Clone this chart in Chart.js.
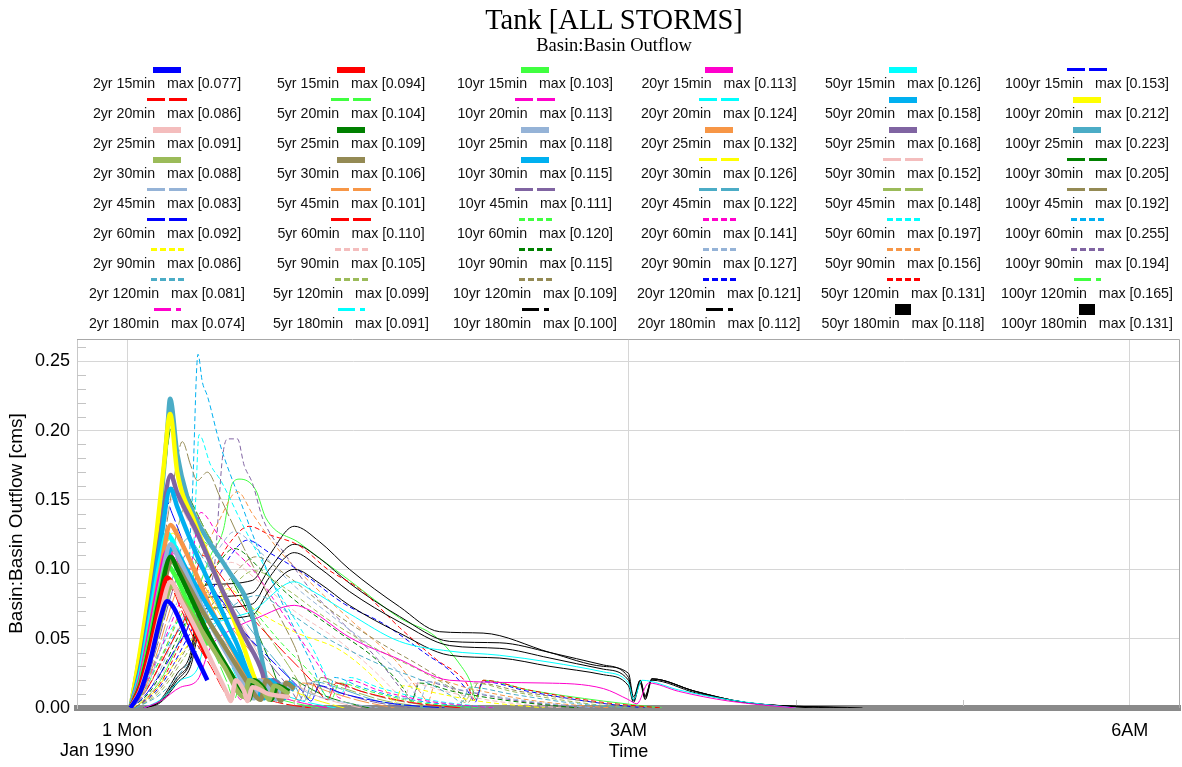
<!DOCTYPE html>
<html>
<head>
<meta charset="utf-8">
<script src="https://cdn.jsdelivr.net/npm/chart.js@4.4.0/dist/chart.umd.min.js"></script>
<style>
body{margin:0;background:#fff;width:1182px;height:767px;overflow:hidden;position:relative;font-family:"Liberation Sans",Arial,sans-serif;}
canvas{position:absolute;left:0;top:0;}
#title{position:absolute;left:0;top:4px;width:1228px;text-align:center;font-family:"Liberation Serif","Times New Roman",serif;font-size:28.5px;line-height:32px;color:#000;}
#subtitle{position:absolute;left:0;top:35px;width:1228px;text-align:center;font-family:"Liberation Serif","Times New Roman",serif;font-size:18.5px;line-height:20px;color:#000;}
.sw{position:absolute;width:184px;height:12px;display:flex;justify-content:center;align-items:center;}
.sw i{display:block;}
.lbl{position:absolute;width:184px;text-align:center;font-size:14.2px;line-height:16px;white-space:pre;color:#111;}
</style>
</head>
<body>
<canvas id="chart" width="1182" height="767"></canvas>
<div id="title">Tank [ALL STORMS]</div>
<div id="subtitle">Basin:Basin Outflow</div>
<div id="legend"></div>
<script>
// storms
const returnPeriods = ['2yr', '5yr', '10yr', '20yr', '50yr', '100yr'];
const durations = ['15min', '20min', '25min', '30min', '45min', '60min', '90min', '120min', '180min'];

// peak flows shown in the legend [cms]
const max2yr = [0.077, 0.086, 0.091, 0.088, 0.083, 0.092, 0.086, 0.081, 0.074];
const max5yr = [0.094, 0.104, 0.109, 0.106, 0.101, 0.110, 0.105, 0.099, 0.091];
const max10yr = [0.103, 0.113, 0.118, 0.115, 0.111, 0.120, 0.115, 0.109, 0.100];
const max20yr = [0.113, 0.124, 0.132, 0.126, 0.122, 0.141, 0.127, 0.121, 0.112];
const max50yr = [0.126, 0.158, 0.168, 0.152, 0.148, 0.197, 0.156, 0.131, 0.118];
const max100yr = [0.153, 0.212, 0.223, 0.205, 0.192, 0.255, 0.194, 0.165, 0.131];

// hydrographs, [hours after 1 Jan 1990 00:00, outflow cms], one list per duration
const q2yr = [
  [[0.02,0],[0.08,0.012],[0.14,0.035],[0.2,0.065],[0.24,0.077],[0.28,0.072],[0.36,0.05],[0.42,0.035],[0.48,0.02]],
  [[0.02,0],[0.08,0.012],[0.14,0.035],[0.2,0.065],[0.26,0.086],[0.32,0.072],[0.4,0.05],[0.5,0.03],[0.58,0.012],[0.62,0.005],[0.66,0.015],[0.75,0.01],[0.9,0.004],[1.1,0]],
  [[0.02,0],[0.08,0.013],[0.14,0.037],[0.2,0.068],[0.26,0.091],[0.32,0.078],[0.42,0.055],[0.52,0.03],[0.6,0.01],[0.62,0.005],[0.65,0.02],[0.7,0.012],[0.72,0.005],[0.75,0.015],[0.85,0.01],[0.97,0.008]],
  [[0.02,0],[0.08,0.012],[0.14,0.035],[0.2,0.062],[0.27,0.088],[0.34,0.076],[0.45,0.055],[0.58,0.03],[0.7,0.008],[0.73,0.02],[0.8,0.015],[0.85,0.006],[0.88,0.016],[0.97,0.01]],
  [[0.02,0],[0.1,0.01],[0.18,0.035],[0.26,0.065],[0.35,0.083],[0.45,0.07],[0.6,0.045],[0.75,0.025],[0.9,0.008],[0.95,0.018],[1.1,0.01],[1.3,0.004],[1.5,0]],
  [[0.02,0],[0.1,0.008],[0.2,0.025],[0.3,0.045],[0.37,0.06],[0.42,0.085],[0.45,0.092],[0.55,0.08],[0.7,0.055],[0.9,0.03],[1.05,0.012],[1.1,0.005],[1.15,0.016],[1.3,0.01],[1.6,0.003],[1.9,0]],
  [[0.03,0],[0.15,0.01],[0.3,0.035],[0.45,0.06],[0.55,0.078],[0.6,0.086],[0.75,0.072],[1.0,0.055],[1.27,0.042],[1.45,0.025],[1.55,0.012],[1.6,0.004],[1.65,0.016],[1.8,0.012],[2.1,0.005],[2.5,0]],
  [[0.05,0],[0.2,0.01],[0.35,0.03],[0.5,0.055],[0.65,0.075],[0.78,0.081],[0.95,0.07],[1.2,0.05],[1.5,0.032],[1.8,0.018],[1.95,0.008],[2.0,0.004],[2.05,0.015],[2.3,0.01],[2.7,0.003],[3.0,0]],
  [[0.1,0],[0.2,0.005],[0.32,0.015],[0.42,0.02],[0.5,0.044],[0.65,0.058],[0.78,0.065],[1.0,0.074],[1.1,0.07],[1.33,0.051],[1.63,0.035],[1.93,0.02],[2.5,0.018],[2.85,0.014],[3.0,0.006],[3.05,0.003],[3.12,0.018],[3.3,0.012],[3.6,0.005],[4.0,0]]
];
const q5yr = [
  [[0.02,0],[0.08,0.016],[0.14,0.045],[0.2,0.078],[0.24,0.094],[0.28,0.088],[0.36,0.068],[0.42,0.052],[0.48,0.036]],
  [[0.02,0],[0.08,0.016],[0.14,0.045],[0.2,0.08],[0.26,0.104],[0.33,0.09],[0.42,0.065],[0.52,0.04],[0.6,0.018],[0.64,0.006],[0.68,0.018],[0.78,0.012],[0.95,0.005],[1.15,0]],
  [[0.02,0],[0.08,0.017],[0.14,0.047],[0.2,0.083],[0.26,0.109],[0.3,0.1],[0.4,0.075],[0.5,0.05],[0.62,0.025],[0.73,0.006],[0.76,0.02],[0.82,0.014],[0.86,0.006],[0.9,0.016],[0.97,0.012]],
  [[0.02,0],[0.08,0.016],[0.14,0.045],[0.2,0.078],[0.27,0.106],[0.35,0.092],[0.45,0.07],[0.58,0.045],[0.7,0.022],[0.8,0.006],[0.83,0.02],[0.88,0.014],[0.92,0.005],[0.95,0.018],[1.0,0.014]],
  [[0.02,0],[0.1,0.012],[0.18,0.04],[0.27,0.076],[0.36,0.101],[0.46,0.088],[0.6,0.062],[0.78,0.035],[0.95,0.012],[1.0,0.005],[1.05,0.018],[1.2,0.012],[1.4,0.005],[1.6,0]],
  [[0.02,0],[0.1,0.01],[0.2,0.032],[0.3,0.055],[0.37,0.072],[0.42,0.1],[0.45,0.11],[0.55,0.097],[0.7,0.072],[0.9,0.045],[1.1,0.02],[1.2,0.006],[1.25,0.018],[1.4,0.012],[1.7,0.004],[2.0,0]],
  [[0.03,0],[0.15,0.012],[0.3,0.045],[0.45,0.075],[0.55,0.095],[0.62,0.105],[0.78,0.092],[1.0,0.07],[1.25,0.05],[1.45,0.03],[1.6,0.012],[1.65,0.005],[1.7,0.018],[1.9,0.012],[2.2,0.005],[2.6,0]],
  [[0.05,0],[0.2,0.012],[0.35,0.038],[0.5,0.066],[0.65,0.09],[0.76,0.099],[0.95,0.086],[1.2,0.064],[1.5,0.042],[1.8,0.024],[1.98,0.01],[2.02,0.004],[2.08,0.018],[2.3,0.012],[2.7,0.004],[3.0,0]],
  [[0.1,0],[0.2,0.006],[0.32,0.02],[0.42,0.028],[0.48,0.055],[0.6,0.064],[0.75,0.07],[1.0,0.091],[1.1,0.085],[1.33,0.068],[1.63,0.048],[1.93,0.041],[2.23,0.038],[2.53,0.033],[2.85,0.026],[3.0,0.018],[3.03,0.006],[3.08,0.02],[3.3,0.013],[3.6,0.006],[4.0,0]]
];
const q10yr = [
  [[0.02,0],[0.08,0.019],[0.14,0.052],[0.2,0.087],[0.24,0.103],[0.28,0.097],[0.36,0.077],[0.42,0.061],[0.48,0.045]],
  [[0.02,0],[0.08,0.019],[0.14,0.052],[0.2,0.088],[0.26,0.113],[0.33,0.098],[0.42,0.073],[0.52,0.048],[0.62,0.022],[0.68,0.006],[0.72,0.018],[0.82,0.012],[1.0,0.005],[1.2,0]],
  [[0.02,0],[0.08,0.019],[0.14,0.053],[0.2,0.09],[0.26,0.118],[0.3,0.11],[0.4,0.085],[0.5,0.06],[0.64,0.03],[0.76,0.007],[0.79,0.02],[0.85,0.014],[0.89,0.006],[0.93,0.017],[0.98,0.013]],
  [[0.02,0],[0.08,0.018],[0.14,0.05],[0.2,0.086],[0.27,0.115],[0.35,0.101],[0.46,0.078],[0.6,0.05],[0.72,0.025],[0.82,0.007],[0.85,0.02],[0.9,0.015],[0.94,0.007],[0.97,0.018],[1.0,0.015]],
  [[0.02,0],[0.1,0.014],[0.18,0.045],[0.27,0.084],[0.36,0.111],[0.46,0.097],[0.6,0.07],[0.8,0.04],[0.98,0.013],[1.03,0.005],[1.08,0.018],[1.25,0.012],[1.45,0.005],[1.7,0]],
  [[0.02,0],[0.1,0.012],[0.2,0.036],[0.3,0.062],[0.37,0.08],[0.42,0.11],[0.45,0.12],[0.55,0.107],[0.7,0.08],[0.9,0.05],[1.12,0.022],[1.22,0.006],[1.27,0.018],[1.45,0.012],[1.75,0.004],[2.1,0]],
  [[0.03,0],[0.15,0.014],[0.3,0.05],[0.45,0.085],[0.55,0.105],[0.64,0.115],[0.8,0.1],[1.0,0.078],[1.25,0.056],[1.5,0.034],[1.66,0.013],[1.7,0.005],[1.75,0.018],[1.95,0.012],[2.3,0.005],[2.7,0]],
  [[0.05,0],[0.2,0.014],[0.35,0.042],[0.5,0.073],[0.65,0.098],[0.77,0.109],[0.95,0.096],[1.2,0.072],[1.5,0.048],[1.8,0.027],[2.0,0.01],[2.04,0.004],[2.1,0.018],[2.35,0.012],[2.8,0.004],[3.1,0]],
  [[0.1,0],[0.2,0.004],[0.3,0.018],[0.38,0.03],[0.44,0.06],[0.5,0.064],[0.75,0.067],[0.85,0.085],[1.0,0.1],[1.15,0.09],[1.33,0.074],[1.63,0.054],[1.93,0.038],[2.23,0.036],[2.53,0.03],[2.85,0.024],[3.0,0.016],[3.03,0.004],[3.07,0.018],[3.1,0.006],[3.14,0.02],[3.4,0.011],[3.7,0.004],[4.1,0]]
];
const q20yr = [
  [[0.02,0],[0.08,0.022],[0.14,0.058],[0.2,0.096],[0.24,0.113],[0.28,0.106],[0.36,0.087],[0.42,0.07],[0.48,0.053]],
  [[0.02,0],[0.08,0.022],[0.14,0.058],[0.2,0.098],[0.26,0.124],[0.33,0.108],[0.42,0.082],[0.54,0.052],[0.64,0.026],[0.72,0.006],[0.76,0.019],[0.86,0.013],[1.05,0.005],[1.25,0]],
  [[0.02,0],[0.08,0.022],[0.14,0.06],[0.2,0.1],[0.26,0.132],[0.3,0.125],[0.4,0.1],[0.5,0.072],[0.65,0.038],[0.78,0.008],[0.81,0.02],[0.87,0.015],[0.91,0.006],[0.95,0.018],[1.0,0.014]],
  [[0.02,0],[0.08,0.021],[0.14,0.056],[0.2,0.095],[0.27,0.126],[0.35,0.112],[0.46,0.088],[0.6,0.058],[0.74,0.03],[0.85,0.007],[0.88,0.02],[0.95,0.015],[1.1,0.007],[1.3,0]],
  [[0.02,0],[0.1,0.016],[0.18,0.05],[0.27,0.093],[0.36,0.122],[0.46,0.107],[0.6,0.08],[0.8,0.047],[1.0,0.017],[1.06,0.005],[1.11,0.019],[1.3,0.013],[1.5,0.005],[1.8,0]],
  [[0.02,0],[0.1,0.014],[0.2,0.042],[0.3,0.072],[0.37,0.092],[0.41,0.125],[0.44,0.141],[0.55,0.124],[0.75,0.1],[0.95,0.065],[1.15,0.03],[1.28,0.007],[1.33,0.02],[1.5,0.013],[1.8,0.005],[2.2,0]],
  [[0.03,0],[0.15,0.016],[0.3,0.056],[0.45,0.095],[0.55,0.115],[0.64,0.127],[0.8,0.112],[1.0,0.088],[1.25,0.064],[1.5,0.04],[1.7,0.015],[1.75,0.005],[1.8,0.019],[2.0,0.013],[2.4,0.005],[2.8,0]],
  [[0.05,0],[0.2,0.016],[0.35,0.048],[0.5,0.083],[0.62,0.11],[0.72,0.121],[0.85,0.112],[1.03,0.099],[1.3,0.075],[1.53,0.061],[1.8,0.038],[1.93,0.027],[2.05,0.01],[2.08,0.004],[2.13,0.019],[2.4,0.012],[2.8,0.004],[3.1,0]],
  [[0.1,0],[0.2,0.005],[0.3,0.02],[0.38,0.034],[0.44,0.068],[0.5,0.072],[0.75,0.075],[0.85,0.094],[1.0,0.112],[1.15,0.101],[1.33,0.084],[1.63,0.062],[1.93,0.045],[2.23,0.043],[2.53,0.036],[2.85,0.028],[3.0,0.02],[3.03,0.005],[3.07,0.019],[3.1,0.007],[3.14,0.021],[3.4,0.012],[3.7,0.004],[4.2,0]]
];
const q50yr = [
  [[0.02,0],[0.08,0.026],[0.14,0.067],[0.2,0.108],[0.24,0.126],[0.28,0.118],[0.36,0.098],[0.42,0.08],[0.48,0.062]],
  [[0.02,0],[0.08,0.028],[0.14,0.072],[0.2,0.12],[0.26,0.158],[0.3,0.145],[0.4,0.115],[0.5,0.088],[0.65,0.048],[0.8,0.01],[0.83,0.02],[0.9,0.016],[0.94,0.01],[0.97,0.016],[1.0,0.013]],
  [[0.02,0],[0.08,0.03],[0.14,0.075],[0.2,0.125],[0.26,0.168],[0.3,0.155],[0.42,0.126],[0.55,0.09],[0.7,0.052],[0.81,0.025],[0.84,0.01],[0.87,0.02],[0.93,0.015],[0.97,0.012]],
  [[0.02,0],[0.08,0.027],[0.14,0.07],[0.2,0.115],[0.28,0.152],[0.36,0.136],[0.48,0.108],[0.62,0.075],[0.78,0.04],[0.92,0.008],[0.95,0.02],[1.02,0.016],[1.15,0.008],[1.4,0]],
  [[0.02,0],[0.1,0.02],[0.18,0.06],[0.27,0.112],[0.36,0.148],[0.46,0.13],[0.6,0.1],[0.8,0.06],[1.02,0.02],[1.08,0.006],[1.13,0.02],[1.3,0.014],[1.55,0.005],[1.85,0]],
  [[0.02,0],[0.1,0.016],[0.2,0.042],[0.3,0.062],[0.38,0.075],[0.41,0.15],[0.43,0.197],[0.5,0.175],[0.56,0.164],[0.7,0.13],[0.9,0.085],[1.1,0.045],[1.28,0.01],[1.33,0.022],[1.5,0.015],[1.8,0.006],[2.2,0]],
  [[0.03,0],[0.15,0.02],[0.3,0.065],[0.45,0.11],[0.55,0.135],[0.66,0.156],[0.75,0.14],[0.9,0.115],[1.1,0.09],[1.35,0.062],[1.6,0.035],[1.75,0.012],[1.8,0.005],[1.85,0.02],[2.05,0.014],[2.45,0.005],[2.9,0]],
  [[0.05,0],[0.2,0.018],[0.35,0.055],[0.5,0.095],[0.62,0.12],[0.73,0.131],[0.85,0.125],[1.03,0.117],[1.2,0.1],[1.4,0.085],[1.63,0.058],[1.85,0.035],[2.03,0.018],[2.08,0.006],[2.13,0.02],[2.4,0.013],[2.85,0.004],[3.2,0]],
  [[0.1,0],[0.2,0.005],[0.3,0.022],[0.38,0.036],[0.44,0.076],[0.5,0.08],[0.75,0.083],[0.85,0.1],[1.0,0.118],[1.15,0.108],[1.33,0.09],[1.63,0.066],[1.93,0.048],[2.23,0.047],[2.53,0.04],[2.85,0.031],[3.0,0.022],[3.03,0.006],[3.07,0.02],[3.1,0.008],[3.14,0.021],[3.4,0.012],[3.7,0.004],[4.3,0]]
];
const q100yr = [
  [[0.02,0],[0.06,0.028],[0.12,0.08],[0.17,0.12],[0.22,0.153],[0.27,0.14],[0.35,0.115],[0.42,0.095],[0.48,0.078]],
  [[0.02,0],[0.06,0.028],[0.12,0.075],[0.17,0.12],[0.22,0.175],[0.257,0.212],[0.3,0.17],[0.4,0.135],[0.5,0.105],[0.65,0.06],[0.78,0.015],[0.8,0.008],[0.83,0.02],[0.9,0.016],[0.94,0.01],[0.97,0.015]],
  [[0.02,0],[0.06,0.027],[0.12,0.068],[0.155,0.1],[0.2,0.145],[0.24,0.2],[0.257,0.223],[0.3,0.183],[0.36,0.152],[0.44,0.13],[0.6,0.1],[0.74,0.07],[0.82,0.027],[0.85,0.008],[0.88,0.02],[0.93,0.015],[0.97,0.012]],
  [[0.02,0],[0.06,0.025],[0.12,0.07],[0.17,0.115],[0.22,0.165],[0.27,0.205],[0.32,0.17],[0.42,0.14],[0.55,0.11],[0.7,0.075],[0.85,0.035],[0.95,0.008],[0.98,0.022],[1.05,0.017],[1.2,0.008],[1.45,0]],
  [[0.02,0],[0.08,0.025],[0.15,0.07],[0.22,0.12],[0.28,0.165],[0.33,0.192],[0.38,0.175],[0.42,0.164],[0.48,0.17],[0.556,0.152],[0.7,0.115],[0.85,0.08],[1.0,0.045],[1.12,0.01],[1.16,0.022],[1.3,0.016],[1.55,0.007],[1.9,0]],
  [[0.02,0],[0.1,0.015],[0.2,0.035],[0.3,0.055],[0.36,0.068],[0.38,0.13],[0.39,0.152],[0.424,0.255],[0.45,0.235],[0.48,0.225],[0.556,0.19],[0.675,0.15],[0.8,0.11],[0.95,0.07],[1.1,0.033],[1.2,0.008],[1.24,0.022],[1.4,0.015],[1.7,0.006],[2.1,0]],
  [[0.03,0],[0.15,0.02],[0.3,0.055],[0.45,0.08],[0.52,0.1],[0.57,0.18],[0.6,0.194],[0.66,0.194],[0.7,0.175],[0.75,0.162],[0.81,0.137],[0.95,0.11],[1.1,0.085],[1.3,0.06],[1.5,0.035],[1.65,0.012],[1.7,0.005],[1.75,0.02],[1.95,0.014],[2.35,0.005],[2.8,0]],
  [[0.05,0],[0.2,0.02],[0.35,0.06],[0.5,0.11],[0.575,0.128],[0.63,0.162],[0.675,0.165],[0.77,0.157],[0.83,0.137],[1.03,0.119],[1.33,0.092],[1.63,0.065],[1.85,0.051],[2.0,0.03],[2.05,0.02],[2.09,0.006],[2.13,0.02],[2.4,0.013],[2.85,0.005],[3.2,0]],
  [[0.1,0],[0.2,0.006],[0.3,0.025],[0.38,0.04],[0.44,0.085],[0.5,0.089],[0.75,0.092],[0.85,0.11],[1.0,0.131],[1.15,0.12],[1.33,0.1],[1.63,0.073],[1.87,0.055],[2.13,0.054],[2.53,0.04],[2.85,0.03],[3.0,0.025],[3.03,0.008],[3.07,0.02],[3.1,0.009],[3.14,0.021],[3.4,0.012],[3.7,0.004],[4.4,0]]
];

const maxTable = [max2yr, max5yr, max10yr, max20yr, max50yr, max100yr];
const flowTable = [q2yr, q5yr, q10yr, q20yr, q50yr, q100yr];

// line styles
const col = {
  blue: '#0000FF', red: '#FF0000', green: '#40FF40', magenta: '#FF00CC', cyan: '#00FFFF',
  pink: '#F4BDBD', olive: '#9BBB59', dkgreen: '#008000', brown: '#948A54', steel: '#95B3D7',
  sky: '#00B0F0', orange: '#F79646', purple: '#8064A2', yellow: '#FFFF00', teal: '#4BACC6', black: '#000000'
};
const lineColors = [
  ['blue', 'red', 'pink', 'olive', 'steel', 'blue', 'yellow', 'teal', 'magenta'],
  ['red', 'green', 'dkgreen', 'brown', 'orange', 'red', 'pink', 'olive', 'cyan'],
  ['green', 'magenta', 'steel', 'sky', 'purple', 'green', 'dkgreen', 'brown', 'black'],
  ['magenta', 'cyan', 'orange', 'yellow', 'teal', 'magenta', 'steel', 'blue', 'black'],
  ['cyan', 'sky', 'purple', 'pink', 'olive', 'cyan', 'orange', 'red', 'black'],
  ['blue', 'yellow', 'teal', 'dkgreen', 'brown', 'sky', 'purple', 'green', 'black']
];
const lineKinds = [
  ['solid', 'long', 'solid', 'solid', 'long', 'long', 'short', 'short', 'dashdot'],
  ['solid', 'long', 'solid', 'solid', 'long', 'long', 'short', 'short', 'dashdot'],
  ['solid', 'long', 'solid', 'solid', 'long', 'short', 'short', 'short', 'dashdot'],
  ['solid', 'long', 'solid', 'long', 'long', 'short', 'short', 'short', 'dashdot'],
  ['solid', 'solid', 'solid', 'long', 'long', 'short', 'short', 'short', 'block'],
  ['long', 'solid', 'solid', 'long', 'long', 'short', 'short', 'dashdot', 'block']
];
// dash patterns as they show on the thin plotted curves
const dashFor = { solid: [], long: [16, 3], short: [5, 3], dashdot: [], block: [] };

// legend grid above the plot
function swatch(kind, color) {
  const seg = (w, h) => '<i style="width:' + w + 'px;height:' + h + 'px;background:' + color + '"></i>';
  if (kind === 'solid') return { gap: 0, html: seg(28, 6) };
  if (kind === 'long') return { gap: 4, html: seg(18, 3) + seg(18, 3) };
  if (kind === 'short') return { gap: 3, html: seg(6, 3) + seg(6, 3) + seg(6, 3) + seg(6, 3) };
  if (kind === 'dashdot') return { gap: 5, html: seg(17, 3) + seg(5, 3) };
  return { gap: 0, html: seg(16, 11) };
}
let legendHtml = '';
returnPeriods.forEach((rp, i) => {
  durations.forEach((d, j) => {
    const left = 75 + 184 * i;
    const sw = swatch(lineKinds[i][j], col[lineColors[i][j]]);
    legendHtml += '<div class="sw" style="left:' + left + 'px;top:' + (63.5 + 30.05 * j) + 'px;gap:' + sw.gap + 'px">' + sw.html + '</div>';
    legendHtml += '<div class="lbl" style="left:' + left + 'px;top:' + (75 + 30.05 * j) + 'px">' +
      rp + ' ' + d + '   max [' + maxTable[i][j].toFixed(3) + ']</div>';
  });
});
document.getElementById('legend').innerHTML = legendHtml;

const datasets = [];
returnPeriods.forEach((rp, i) => {
  durations.forEach((d, j) => {
    const kind = lineKinds[i][j];
    datasets.push({
      label: rp + ' ' + d,
      data: flowTable[i][j].map(p => ({ x: p[0], y: p[1] })),
      borderColor: col[lineColors[i][j]],
      borderWidth: kind === 'solid' ? 4.5 : 1,
      borderDash: dashFor[kind],
      borderJoinStyle: 'round',
      pointRadius: 0,
      cubicInterpolationMode: 'monotone',
      fill: false,
      order: kind === 'solid' ? 0 : 1
    });
  });
});

const isMajor = v => Math.abs(v / 0.05 - Math.round(v / 0.05)) < 1e-6;
const axisFont = { family: '"Liberation Sans", Arial, sans-serif', size: 18 };

const extras = {
  id: 'extras',
  beforeDatasetsDraw(chart) {
    const { ctx, chartArea: a, scales: { x, y } } = chart;
    ctx.save();
    ctx.strokeStyle = '#c4c4c4';
    ctx.lineWidth = 1;
    ctx.beginPath();
    y.ticks.forEach(t => {
      if (!isMajor(t.value)) {
        const py = Math.round(y.getPixelForValue(t.value)) + 0.5;
        ctx.moveTo(a.left, py);
        ctx.lineTo(a.left + 9, py);
      }
    });
    x.ticks.forEach(t => {
      if (t.value % 3 !== 0) {
        const px = Math.round(x.getPixelForValue(t.value)) + 0.5;
        ctx.moveTo(px, a.bottom - 2);
        ctx.lineTo(px, a.bottom - 8);
      }
    });
    ctx.stroke();
    ctx.restore();
  },
  afterDraw(chart) {
    const { ctx, chartArea: a, scales: { x } } = chart;
    ctx.save();
    ctx.strokeStyle = '#a8a8a8';
    ctx.lineWidth = 1;
    ctx.beginPath();
    ctx.moveTo(a.left, a.top + 0.5);
    ctx.lineTo(a.right - 0.5, a.top + 0.5);
    ctx.lineTo(a.right - 0.5, a.bottom);
    ctx.stroke();
    ctx.font = '18px "Liberation Sans", Arial, sans-serif';
    ctx.fillStyle = '#000';
    ctx.textAlign = 'center';
    ctx.textBaseline = 'middle';
    ctx.fillText('Jan 1990', x.getPixelForValue(0) - 30, 751);
    ctx.restore();
  }
};

new Chart(document.getElementById('chart'), {
  type: 'line',
  data: { datasets },
  options: {
    responsive: false,
    animation: false,
    devicePixelRatio: 1,
    layout: { padding: { top: 339, right: 2, left: 0, bottom: 0 } },
    plugins: { legend: { display: false }, tooltip: { enabled: false }, title: { display: false } },
    scales: {
      x: {
        type: 'linear',
        min: -0.3,
        max: 6.3,
        afterBuildTicks: s => { s.ticks = s.ticks.filter(t => Math.abs(t.value - Math.round(t.value)) < 1e-9); },
        afterFit: s => { s.height = 59; },
        ticks: {
          stepSize: 1, includeBounds: false, autoSkip: false, maxRotation: 0, padding: 12, color: '#000', font: axisFont,
          callback: v => (Math.abs(v) < 1e-9 ? '1 Mon' : v === 3 ? '3AM' : v === 6 ? '6AM' : '')
        },
        grid: { color: c => (c.tick && Math.round(c.tick.value) % 3 === 0 ? '#d6d6d6' : 'rgba(0,0,0,0)'), drawTicks: false },
        border: { color: '#8a8a8a', width: 6 },
        title: { display: true, text: 'Time', color: '#000', font: axisFont, padding: { top: 0, bottom: 4 } }
      },
      y: {
        min: 0,
        max: 0.266,
        afterBuildTicks: s => { s.ticks = s.ticks.filter(t => Math.abs(t.value * 100 - Math.round(t.value * 100)) < 1e-6); },
        afterFit: s => { s.width = 77; },
        ticks: {
          stepSize: 0.01, includeBounds: false, autoSkip: false, padding: 7, color: '#000', font: axisFont,
          callback: v => (isMajor(v) ? v.toFixed(2) : '')
        },
        grid: { color: c => (c.tick && isMajor(c.tick.value) && c.tick.value > 0 ? '#d6d6d6' : 'rgba(0,0,0,0)'), drawTicks: false },
        border: { color: '#c8c8c8' },
        title: { display: true, text: 'Basin:Basin Outflow [cms]', color: '#000', font: { family: axisFont.family, size: 19 }, padding: { top: 5, bottom: 4 } }
      }
    }
  },
  plugins: [extras]
});
</script>
</body>
</html>
